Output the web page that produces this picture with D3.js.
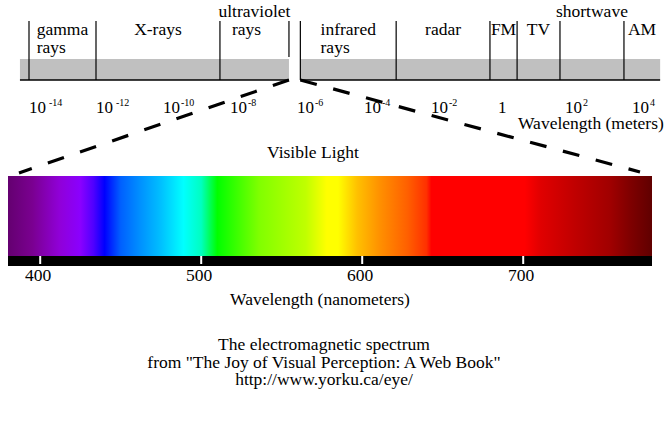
<!DOCTYPE html>
<html>
<head>
<meta charset="utf-8">
<title>Electromagnetic spectrum</title>
<script src="https://cdn.jsdelivr.net/npm/d3@7"></script>
<style>
  body { margin: 0; background: #fff; }
</style>
</head>
<body>
<script>
// wavelength bands, in log10(meters)
var bandNames = [["gamma", "rays"], ["X-rays"], ["ultraviolet", "rays"], ["infrared", "rays"],
                 ["radar"], ["FM"], ["TV"], ["shortwave"], ["AM"]];
var bandFrom = [-14, -12, -8.3, -5.9, -3.04, -0.24, 0.57, 1.85, 3.76];
var bandTo   = [-12, -8.3, -6.24, -3.04, -0.24, 0.57, 1.85, 3.76, 4.84];
var bandRow  = [1, 1, 0, 1, 1, 1, 1, 0, 1];   // which text row the first line sits on
var grayFrom = [-14.27, -5.9];
var grayTo   = [-6.24, 4.84];
var tickExp  = [-14, -12, -10, -8, -6, -4, -2, 0, 2, 4];

// visible part, nanometers
var nmTicks = [400, 500, 600, 700];
var stopNm = [380, 395, 412, 425, 433, 440, 450, 462, 475, 489, 500, 510, 536, 565, 578, 585,
              597, 611, 628, 640, 643, 701, 711, 732, 754, 766, 780];
var stopColor = ["#640070", "#7a0090", "#9000d8", "#8a00ff", "#5000ff", "#0000ff", "#0060ff",
                 "#0090ff", "#00c0ff", "#00ffff", "#00ffc0", "#00ff00", "#80ff00", "#c0ff00",
                 "#ffff00", "#ffff00", "#ffc000", "#ff9000", "#ff6000", "#ff3000", "#ff0000",
                 "#ff0000", "#e00000", "#c00000", "#a00000", "#800000", "#600000"];
var captionLines = ["The electromagnetic spectrum",
                    "from \"The Joy of Visual Perception: A Web Book\"",
                    "http://www.yorku.ca/eye/"];

var W = 671, H = 432;
var FONT = "'Liberation Serif', 'DejaVu Serif', 'Times New Roman', serif";
var svg = d3.select("body").append("svg").attr("width", W).attr("height", H)
    .attr("font-family", FONT);

var x = d3.scaleLinear().domain([-14, 4]).range([29, 632]);
var nm = d3.scaleLinear().domain([380, 780]).range([8, 652]);

var bandTop = 21, grayTop = 59, baseY = 80;
var rowY = [17, 35, 53];
var fs = 17.5;

function label(sel) {
    return sel.append("text")
        .attr("font-family", FONT)
        .attr("font-size", fs)
        .attr("fill", "#000");
}

// gray strip + baseline
grayFrom.forEach(function (g, i) {
    svg.append("rect")
        .attr("x", x(g)).attr("y", grayTop)
        .attr("width", x(grayTo[i]) - x(g)).attr("height", baseY - grayTop)
        .attr("fill", "#c0c0c0");
    svg.append("line")
        .attr("x1", x(g)).attr("x2", x(grayTo[i]))
        .attr("y1", baseY).attr("y2", baseY)
        .attr("stroke", "#000").attr("stroke-width", 1.5);
});

// band dividers
bandFrom.forEach(function (b) {
    svg.append("line")
        .attr("x1", x(b)).attr("x2", x(b))
        .attr("y1", bandTop).attr("y2", baseY)
        .attr("stroke", "#000").attr("stroke-width", 1.2);
});
// end of ultraviolet, stops above the strip
svg.append("line")
    .attr("x1", x(bandTo[2])).attr("x2", x(bandTo[2]))
    .attr("y1", bandTop).attr("y2", grayTop - 2)
    .attr("stroke", "#000").attr("stroke-width", 1.2);

// band labels
bandNames.forEach(function (lines, i) {
    var cx = (x(bandFrom[i]) + x(bandTo[i])) / 2;
    var r = bandRow[i];
    var first = label(svg)
        .attr("x", cx).attr("y", rowY[r])
        .attr("text-anchor", "middle")
        .text(lines[0]);
    if (lines.length > 1) {
        var t = label(svg)
            .attr("y", rowY[r + 1])
            .text(lines[1]);
        if (r === 1) {
            var w = first.node().getComputedTextLength();
            t.attr("x", cx - w / 2);
        } else {
            t.attr("x", cx - 8).attr("text-anchor", "middle");
        }
    }
});

// dashed lines to the visible spectrum
svg.append("line")
    .attr("x1", x(grayTo[0])).attr("y1", baseY)
    .attr("x2", 19).attr("y2", 173)
    .attr("stroke", "#000").attr("stroke-width", 3.2)
    .attr("stroke-dasharray", "17,17");
svg.append("line")
    .attr("x1", x(grayFrom[1])).attr("y1", baseY)
    .attr("x2", 640).attr("y2", 172)
    .attr("stroke", "#000").attr("stroke-width", 3.2)
    .attr("stroke-dasharray", "17,17");

// meters tick labels
tickExp.forEach(function (e) {
    var t = label(svg)
        .attr("x", x(e)).attr("y", 113)
        .attr("font-size", 17);
    if (e === 0) {
        t.text("1");
    } else {
        t.append("tspan").text("10");
        t.append("tspan")
            .attr("dx", e < -10 ? 3 : 1).attr("dy", -7)
            .attr("font-size", 10)
            .text(e);
    }
});

label(svg)
    .attr("x", 518).attr("y", 129)
    .text("Wavelength (meters)");

label(svg)
    .attr("x", 313).attr("y", 158)
    .attr("text-anchor", "middle")
    .text("Visible Light");

// spectrum gradient
var grad = svg.append("defs").append("linearGradient")
    .attr("id", "spec")
    .attr("gradientUnits", "userSpaceOnUse")
    .attr("x1", nm(380)).attr("x2", nm(780))
    .attr("y1", 0).attr("y2", 0);
stopNm.forEach(function (n, i) {
    grad.append("stop")
        .attr("offset", (n - 380) / 400)
        .attr("stop-color", stopColor[i]);
});

svg.append("rect")
    .attr("x", nm(380)).attr("y", 176)
    .attr("width", nm(780) - nm(380)).attr("height", 80)
    .attr("fill", "url(#spec)");

svg.append("rect")
    .attr("x", nm(380)).attr("y", 256)
    .attr("width", nm(780) - nm(380)).attr("height", 10)
    .attr("fill", "#000");

nmTicks.forEach(function (n) {
    svg.append("rect")
        .attr("x", nm(n) - 1).attr("y", 256)
        .attr("width", 2).attr("height", 8)
        .attr("fill", "#fff");
    label(svg)
        .attr("x", nm(n) - 2).attr("y", 281)
        .attr("text-anchor", "middle")
        .text(n);
});

label(svg)
    .attr("x", 320).attr("y", 305)
    .attr("text-anchor", "middle")
    .text("Wavelength (nanometers)");

captionLines.forEach(function (c, i) {
    label(svg)
        .attr("x", 324).attr("y", 350 + i * 17.5)
        .attr("text-anchor", "middle")
        .text(c);
});
</script>
</body>
</html>
